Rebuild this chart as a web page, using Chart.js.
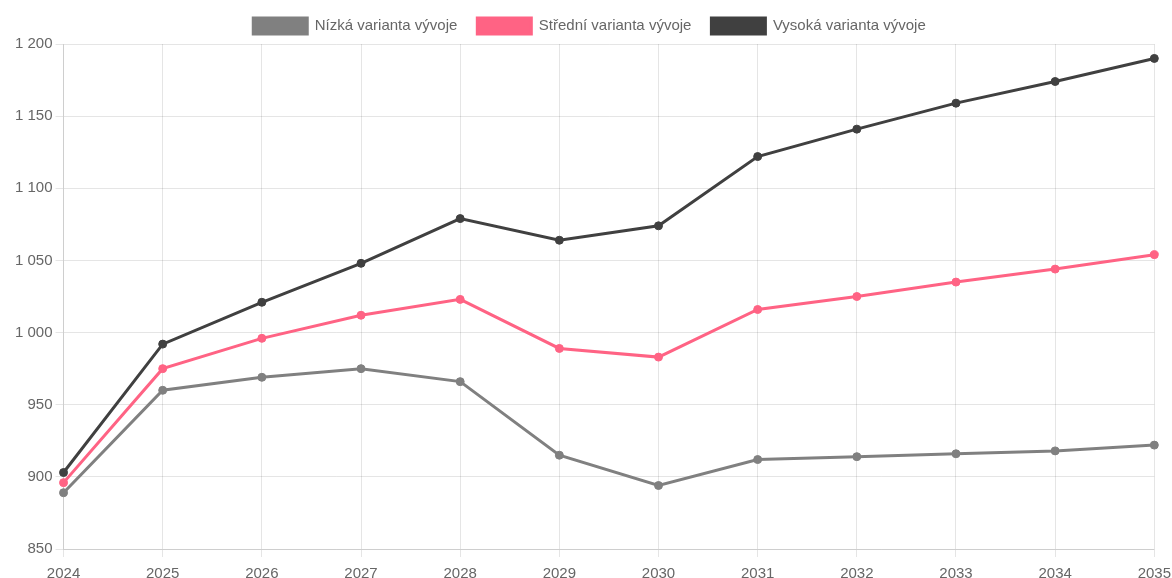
<!DOCTYPE html>
<html lang="cs">
<head>
<meta charset="utf-8">
<title>Varianty vývoje</title>
<script src="https://cdn.jsdelivr.net/npm/chart.js@4/dist/chart.umd.min.js"></script>
<style>
    html, body { margin: 0; padding: 0; background: #fff; overflow: hidden; width: 1172px; height: 578px; }
    #obal { width: 1172px; height: 578px; overflow: hidden; position: relative; }
    canvas { display: block; }
</style>
</head>
<body>
<div id="obal"><canvas id="grafico" width="1179" height="591"></canvas></div>
<script>
// Roky na ose X
const roky = ['2024', '2025', '2026', '2027', '2028', '2029', '2030', '2031', '2032', '2033', '2034', '2035'];

// Hodnoty jednotlivých variant
const nizka = [889, 960, 969, 975, 966, 915, 894, 912, 914, 916, 918, 922];
const stredni = [896, 975, 996, 1012, 1023, 989, 983, 1016, 1025, 1035, 1044, 1054];
const vysoka = [903, 992, 1021, 1048, 1079, 1064, 1074, 1122, 1141, 1159, 1174, 1190];

const nazvy = ['Nízká varianta vývoje', 'Střední varianta vývoje', 'Vysoká varianta vývoje'];
const barvy = ['#808080', 'rgb(255, 99, 132)', '#404040'];

// Osa Y
const osaMin = 850;
const osaMax = 1200;
const osaKrok = 50;

function formatCislo(v) {
    return String(v).replace(/\B(?=(\d{3})+(?!\d))/g, ' ');
}

function sada(nazev, data, barva) {
    return {
        label: nazev,
        data: data,
        borderColor: barva,
        backgroundColor: barva,
        borderWidth: 3,
        pointRadius: 4,
        pointBorderWidth: 1,
        pointHoverRadius: 5,
        pointBackgroundColor: barva,
        pointBorderColor: barva,
        fill: false,
        tension: 0
    };
}

Chart.defaults.font.family = '"Liberation Sans", Arial, Helvetica, sans-serif';
Chart.defaults.font.size = 15;
Chart.defaults.color = '#666';

const ctx = document.getElementById('grafico').getContext('2d');
const graf = new Chart(ctx, {
    type: 'line',
    data: {
        labels: roky,
        datasets: [
            sada(nazvy[0], nizka, barvy[0]),
            sada(nazvy[1], stredni, barvy[1]),
            sada(nazvy[2], vysoka, barvy[2])
        ]
    },
    options: {
        responsive: false,
        animation: false,
        layout: {
            padding: { left: 0, top: -2 }
        },
        plugins: {
            legend: {
                position: 'top',
                labels: {
                    boxWidth: 54,
                    boxHeight: 16,
                    padding: 20,
                    color: '#666',
                    font: { size: 15 }
                }
            },
            tooltip: { enabled: true }
        },
        scales: {
            x: {
                offset: false,
                grid: {
                    color: 'rgba(0, 0, 0, 0.1)',
                    tickLength: 8
                },
                ticks: {
                    color: '#666',
                    maxRotation: 0,
                    padding: 8
                }
            },
            y: {
                min: osaMin,
                max: osaMax,
                afterFit: function (osa) { osa.width += 12; },
                grid: {
                    color: 'rgba(0, 0, 0, 0.1)',
                    tickLength: 8
                },
                ticks: {
                    stepSize: osaKrok,
                    color: '#666',
                    padding: 3,
                    callback: function (v) { return formatCislo(v); }
                }
            }
        }
    }
});
</script>
</body>
</html>
